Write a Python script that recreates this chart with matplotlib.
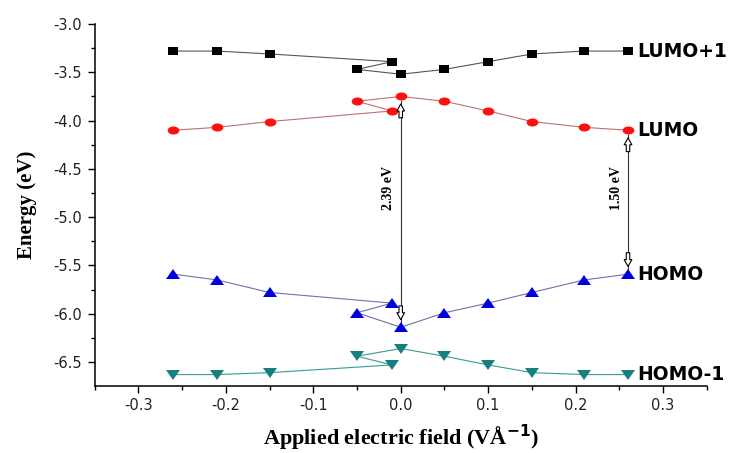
import matplotlib
matplotlib.use("Agg")
import matplotlib.pyplot as plt
from matplotlib.ticker import MultipleLocator
from matplotlib.markers import MarkerStyle
from matplotlib.transforms import Affine2D

plt.rcParams["axes.unicode_minus"] = False

# Data (order as connected in the original figure)
field = [-0.26, -0.21, -0.15, -0.01, -0.05, 0.0, 0.05, 0.10, 0.15, 0.21, 0.26]
lumo1 = [-3.28, -3.28, -3.31, -3.39, -3.47, -3.52, -3.47, -3.39, -3.31, -3.28, -3.28]
lumo = [-4.10, -4.07, -4.01, -3.90, -3.80, -3.75, -3.80, -3.90, -4.01, -4.07, -4.10]
homo = [-5.59, -5.65, -5.78, -5.89, -5.99, -6.14, -5.99, -5.89, -5.78, -5.65, -5.59]
homo1 = [-6.63, -6.63, -6.61, -6.53, -6.44, -6.36, -6.44, -6.53, -6.61, -6.63, -6.63]

series_names = ["LUMO+1", "LUMO", "HOMO", "HOMO-1"]
gaps = [(0.0, -3.75, -6.14, "2.39 eV"), (0.26, -4.10, -5.59, "1.50 eV")]

fig = plt.figure(figsize=(7.40, 4.53), dpi=100)
ax = fig.add_axes([0.128, 0.1486, 0.827, 0.7984])

stretch = Affine2D().scale(1.45, 1.0)
styles = [
    (lumo1, "s", "black", "#555555", 5.2),
    (lumo, "o", "#ff1010", "#c07070", 5.8),
    (homo, "^", "#0000dd", "#7070b0", 6.6),
    (homo1, "v", "#168080", "#3a9a9a", 6.6),
]
for (vals, mk, mc, lc, ms), name in zip(styles, series_names):
    ax.plot(field, vals, color=lc, lw=0.8, zorder=2)
    ax.plot(field, vals, ls="none", marker=MarkerStyle(mk, transform=stretch),
            color=mc, ms=ms, markeredgewidth=0, zorder=3)
    ax.text(0.27, vals[-1], name, fontsize=13.5, fontweight="bold",
            family="DejaVu Sans", va="center", ha="left")

# gap annotations
for x, top, bot, label in gaps:
    ax.plot([x, x], [top - 0.05, bot + 0.05], color="#333333", lw=0.8, zorder=1)
    arrow = dict(arrowstyle="simple,head_length=0.5,head_width=0.55,tail_width=0.25",
                 fc="white", ec="black", lw=0.8)
    ax.annotate("", xy=(x, top - 0.05), xytext=(x, top - 0.25),
                arrowprops=arrow, zorder=4)
    ax.annotate("", xy=(x, bot + 0.05), xytext=(x, bot + 0.25),
                arrowprops=arrow, zorder=4)
    ax.text(x - 0.006, -4.70, label, rotation=90,
            family="Liberation Serif", fontweight="bold", fontsize=10,
            ha="right", va="center")

ax.set_xlim(-0.35, 0.35)
ax.set_ylim(-6.745, -3.0)
ax.xaxis.set_major_locator(MultipleLocator(0.1))
ax.xaxis.set_minor_locator(MultipleLocator(0.05))
ax.yaxis.set_major_locator(MultipleLocator(0.5))
ax.yaxis.set_minor_locator(MultipleLocator(0.25))
ax.tick_params(which="major", direction="out", length=5, width=1,
               labelsize=10.5, colors="black", pad=4)
ax.tick_params(which="minor", direction="out", length=3, width=1)
for lab in ax.get_xticklabels() + ax.get_yticklabels():
    lab.set_family("DejaVu Sans")
    lab.set_color("#222222")
ax.spines["top"].set_visible(False)
ax.spines["right"].set_visible(False)
ax.spines["left"].set_linewidth(1.1)
ax.spines["bottom"].set_linewidth(1.1)

ax.set_xlabel("Applied electric field (VÅ$^{\\mathbf{-1}}$)", family="Liberation Serif",
              fontweight="bold", fontsize=16, labelpad=7)
ax.set_ylabel("Energy (eV)", family="Liberation Serif", fontweight="bold",
              fontsize=15, labelpad=12)

fig.savefig("out.png", dpi=100)
